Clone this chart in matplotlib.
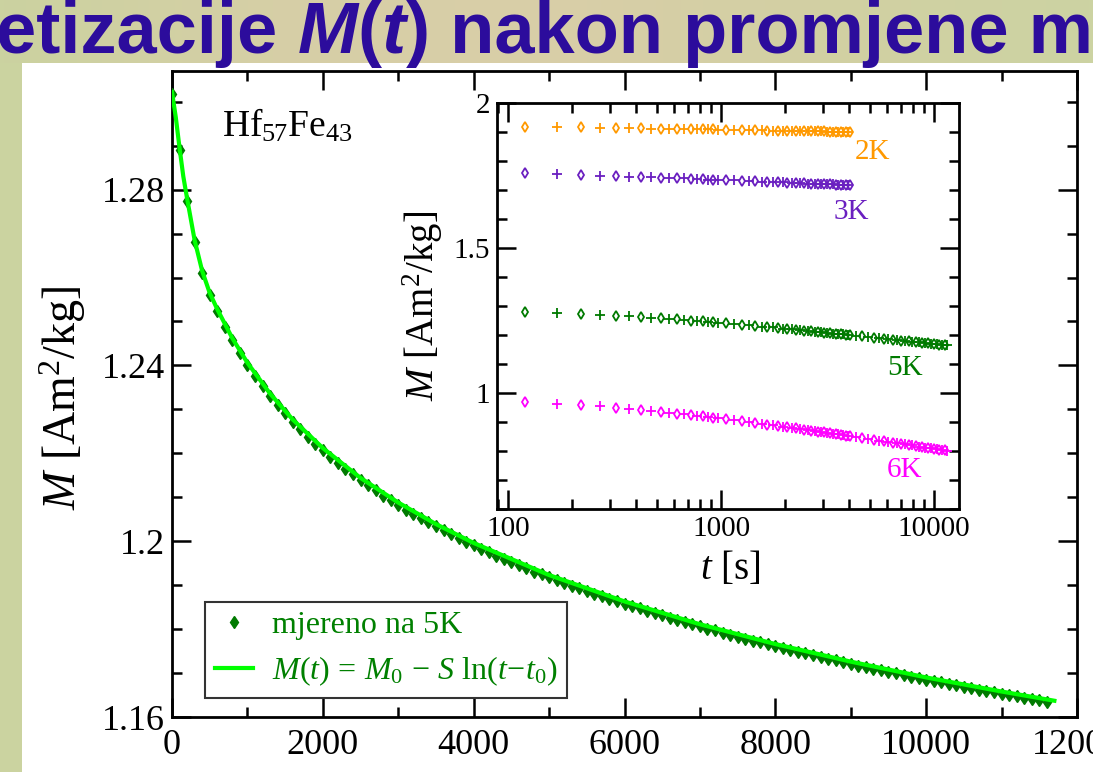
import numpy as np
import matplotlib
matplotlib.use('Agg')
import matplotlib.pyplot as plt
from matplotlib import ticker
from matplotlib.patches import Rectangle
from matplotlib.lines import Line2D

plt.rcParams['font.family'] = ['Liberation Serif', 'DejaVu Serif']
plt.rcParams['mathtext.fontset'] = 'custom'
plt.rcParams['mathtext.rm'] = 'Liberation Serif'
plt.rcParams['mathtext.it'] = 'Liberation Serif:italic'
plt.rcParams['mathtext.bf'] = 'Liberation Serif:bold'

# main panel: relaxation measured at 5K
t_main = [0, 100, 200, 300, 400, 500, 600, 700, 800, 900,
          1000, 1100, 1200, 1300, 1400, 1500, 1600, 1700, 1800, 1900,
          2000, 2100, 2200, 2300, 2400, 2500, 2600, 2700, 2800, 2900,
          3000, 3100, 3200, 3300, 3400, 3500, 3600, 3700, 3800, 3900,
          4000, 4100, 4200, 4300, 4400, 4500, 4600, 4700, 4800, 4900,
          5000, 5100, 5200, 5300, 5400, 5500, 5600, 5700, 5800, 5900,
          6000, 6100, 6200, 6300, 6400, 6500, 6600, 6700, 6800, 6900,
          7000, 7100, 7200, 7300, 7400, 7500, 7600, 7700, 7800, 7900,
          8000, 8100, 8200, 8300, 8400, 8500, 8600, 8700, 8800, 8900,
          9000, 9100, 9200, 9300, 9400, 9500, 9600, 9700, 9800, 9900,
          10000, 10100, 10200, 10300, 10400, 10500, 10600, 10700, 10800, 10900,
          11000, 11100, 11200, 11300, 11400, 11500, 11600]
M_main = [1.3017, 1.2890, 1.2775, 1.2680, 1.2610, 1.2560, 1.2523, 1.2488, 1.2457, 1.2428,
          1.2401, 1.2376, 1.2353, 1.2331, 1.2310, 1.2291, 1.2272, 1.2255, 1.2238, 1.2222,
          1.2207, 1.2192, 1.2178, 1.2165, 1.2152, 1.2139, 1.2127, 1.2116, 1.2104, 1.2093,
          1.2083, 1.2072, 1.2062, 1.2052, 1.2043, 1.2034, 1.2025, 1.2016, 1.2007, 1.1999,
          1.1991, 1.1983, 1.1975, 1.1967, 1.1960, 1.1952, 1.1945, 1.1938, 1.1931, 1.1925,
          1.1918, 1.1911, 1.1905, 1.1899, 1.1893, 1.1886, 1.1880, 1.1875, 1.1869, 1.1863,
          1.1858, 1.1852, 1.1847, 1.1841, 1.1836, 1.1831, 1.1826, 1.1821, 1.1816, 1.1811,
          1.1806, 1.1801, 1.1797, 1.1792, 1.1787, 1.1783, 1.1778, 1.1774, 1.1770, 1.1765,
          1.1761, 1.1757, 1.1753, 1.1749, 1.1745, 1.1741, 1.1737, 1.1733, 1.1729, 1.1725,
          1.1721, 1.1717, 1.1714, 1.1710, 1.1706, 1.1703, 1.1699, 1.1696, 1.1692, 1.1689,
          1.1685, 1.1682, 1.1679, 1.1675, 1.1672, 1.1669, 1.1665, 1.1662, 1.1659, 1.1656,
          1.1653, 1.1650, 1.1647, 1.1644, 1.1641, 1.1638, 1.1635]

# fit M(t) = M0 - S ln(t - t0)
t_fit = [0, 50, 100, 150, 200, 300, 400, 500, 600, 800, 1000, 1300, 1600, 2000,
         2500, 3000, 3500, 4000, 5000, 6000, 7000, 8000, 9000, 10000, 11000, 11700]
M_fit = [1.3022, 1.2965, 1.2895, 1.2830, 1.2780, 1.2685, 1.2615, 1.2565, 1.2528, 1.2462,
         1.2406, 1.2336, 1.2277, 1.2212, 1.2144, 1.2088, 1.2039, 1.1996, 1.1923, 1.1863,
         1.1811, 1.1766, 1.1726, 1.1690, 1.1658, 1.1637]

# inset: log time, four temperatures
t_low = [120, 170, 220, 270, 320, 370, 420, 470, 520, 570, 620, 670, 720, 770, 820, 870, 920, 970,
         1050, 1150, 1250, 1350, 1450, 1550, 1650, 1750, 1850, 1950,
         2050, 2150, 2250, 2350, 2450, 2550, 2650, 2750, 2850, 2950,
         3050, 3150, 3250, 3350, 3450, 3550, 3650, 3750, 3850, 3950, 4050]
t_high = t_low + [4300, 4600, 4900, 5200, 5500, 5800, 6100, 6400, 6700, 7000, 7300, 7600, 7900,
                  8200, 8500, 8800, 9100, 9400, 9700, 10000, 10300, 10600, 10900, 11200, 11500]
M_2K = [1.918, 1.917, 1.916, 1.915, 1.914, 1.913, 1.913, 1.912, 1.912, 1.911,
        1.911, 1.910, 1.910, 1.910, 1.909, 1.909, 1.909, 1.908, 1.908, 1.907,
        1.907, 1.906, 1.906, 1.906, 1.905, 1.905, 1.905, 1.904, 1.904, 1.904,
        1.903, 1.903, 1.903, 1.903, 1.903, 1.902, 1.902, 1.902, 1.902, 1.901,
        1.901, 1.901, 1.901, 1.901, 1.901, 1.900, 1.900, 1.900, 1.900]
M_3K = [1.757, 1.754, 1.752, 1.750, 1.748, 1.746, 1.745, 1.744, 1.743, 1.741,
        1.740, 1.740, 1.739, 1.738, 1.737, 1.736, 1.736, 1.735, 1.734, 1.733,
        1.732, 1.731, 1.730, 1.729, 1.728, 1.727, 1.727, 1.726, 1.725, 1.725,
        1.724, 1.723, 1.723, 1.722, 1.722, 1.721, 1.721, 1.720, 1.720, 1.719,
        1.719, 1.719, 1.718, 1.718, 1.717, 1.717, 1.717, 1.716, 1.716]
M_5K = [1.281, 1.277, 1.274, 1.270, 1.267, 1.265, 1.262, 1.260, 1.258, 1.256,
        1.254, 1.252, 1.250, 1.248, 1.247, 1.245, 1.244, 1.242, 1.240, 1.238,
        1.235, 1.233, 1.231, 1.229, 1.227, 1.226, 1.224, 1.222, 1.221, 1.219,
        1.218, 1.217, 1.215, 1.214, 1.213, 1.212, 1.211, 1.209, 1.208, 1.207,
        1.206, 1.205, 1.204, 1.203, 1.203, 1.202, 1.201, 1.200, 1.199, 1.197,
        1.195, 1.193, 1.191, 1.189, 1.187, 1.186, 1.184, 1.183, 1.181, 1.180,
        1.178, 1.177, 1.176, 1.175, 1.173, 1.172, 1.171, 1.170, 1.169, 1.168,
        1.167, 1.166, 1.165, 1.164]
M_6K = [0.969, 0.963, 0.958, 0.954, 0.949, 0.945, 0.942, 0.938, 0.935, 0.932,
        0.929, 0.927, 0.924, 0.922, 0.919, 0.917, 0.915, 0.913, 0.910, 0.906,
        0.903, 0.900, 0.897, 0.894, 0.891, 0.889, 0.886, 0.884, 0.882, 0.880,
        0.878, 0.876, 0.874, 0.872, 0.870, 0.869, 0.867, 0.866, 0.864, 0.863,
        0.861, 0.860, 0.858, 0.857, 0.856, 0.854, 0.853, 0.852, 0.851, 0.848,
        0.845, 0.842, 0.839, 0.836, 0.834, 0.831, 0.829, 0.827, 0.825, 0.823,
        0.821, 0.819, 0.817, 0.815, 0.814, 0.812, 0.810, 0.809, 0.807, 0.806,
        0.804, 0.803, 0.802, 0.800]
inset_labels = ['2K', '3K', '5K', '6K']

W, H = 1093, 772
fig = plt.figure(figsize=(W / 100, H / 100), dpi=100)
fig.patch.set_facecolor('#cbd3a0')

# slide header band + white slide body
band = fig.add_axes([0, 1 - 63 / H, 1, 63 / H], zorder=-2)
grad = np.array([[203, 210, 160], [214, 207, 166], [217, 206, 168], [210, 208, 163], [204, 211, 162]]) / 255
xs = np.linspace(0, 1, 300)
img = np.stack([np.interp(xs, np.linspace(0, 1, len(grad)), grad[:, k]) for k in range(3)], axis=-1)
band.imshow(img[None, :, :], aspect='auto', extent=[0, 1, 0, 1])
band.axis('off')
fig.add_artist(Rectangle((22 / W, 0), 1, 1 - 63 / H, transform=fig.transFigure,
                         fc='white', ec='none', zorder=-1))

title_parts = [('etizacije ', 'normal'), ('M', 'italic'), ('(', 'normal'), ('t', 'italic'),
               (') nakon promjene m', 'normal')]
renderer = fig.canvas.get_renderer()
x0 = -4 / W
for txt, style in title_parts:
    tt = fig.text(x0, 1 - 53 / H, txt, fontsize=52, fontweight='bold', fontstyle=style,
                  family='Liberation Sans', color='#2c0c9c', va='baseline', ha='left', zorder=10)
    x0 += tt.get_window_extent(renderer).width / W

fmt = ticker.FuncFormatter(lambda v, p: f'{v:g}')

# main axes
ax = fig.add_axes([172 / W, 1 - 717 / H, 905 / W, 646 / H], zorder=1)
ax.set_xlim(0, 12000)
ax.set_ylim(1.16, 1.307)
ax.xaxis.set_major_locator(ticker.MultipleLocator(2000))
ax.xaxis.set_minor_locator(ticker.MultipleLocator(1000))
ax.yaxis.set_major_locator(ticker.FixedLocator([1.16, 1.2, 1.24, 1.28]))
ax.yaxis.set_minor_locator(ticker.MultipleLocator(0.01))
ax.xaxis.set_major_formatter(fmt)
ax.yaxis.set_major_formatter(fmt)
ax.tick_params(which='both', direction='in', top=True, right=True, width=1.8, colors='black')
ax.tick_params(which='major', length=14, labelsize=26)
ax.tick_params(which='minor', length=7.5)
ax.tick_params(axis='x', pad=9)
ax.tick_params(axis='y', pad=5)
for s in ax.spines.values():
    s.set_linewidth(2)

ax.plot(t_main, M_main, ls='none', marker='d', ms=6.5, color='#007a00', zorder=3)
ax.plot(t_fit, M_fit, color='#00ff00', lw=3, zorder=4)

ax.set_ylabel(r'$M$ [Am$^2$/kg]', fontsize=33)
ax.yaxis.set_label_coords(-0.093, 0.494)
ax.text(0.0552, 0.898, r'Hf$_{57}$Fe$_{43}$', transform=ax.transAxes, fontsize=27,
        va='baseline', ha='left')

handles = [Line2D([], [], ls='none', marker='d', ms=6.5, color='#007a00'),
           Line2D([], [], color='#00ff00', lw=3)]
labels = ['mjereno na 5K', r'$M(t)\,=\,M_0\,-\,S\ \mathrm{ln}(t\!-\!t_0)$']
leg = ax.legend(handles, labels, loc='lower left', bbox_to_anchor=(0.0365, 0.0294),
                frameon=True, fancybox=False, edgecolor='#333333', framealpha=1,
                prop={'size': 23}, labelcolor='#008000', handlelength=1.2,
                handletextpad=0.6, borderpad=0.3, labelspacing=0.45, borderaxespad=0)
leg.get_frame().set_linewidth(1.5)

# inset
axi = fig.add_axes([497 / W, 1 - 509 / H, 462 / W, 406 / H], zorder=2)
axi.set_facecolor('white')
axi.set_xscale('log')
axi.set_xlim(88.8, 13100)
axi.set_ylim(0.6, 2.0)
axi.yaxis.set_major_locator(ticker.FixedLocator([1.0, 1.5, 2.0]))
axi.yaxis.set_minor_locator(ticker.MultipleLocator(0.1))
axi.xaxis.set_major_formatter(fmt)
axi.xaxis.set_minor_formatter(ticker.NullFormatter())
axi.yaxis.set_major_formatter(fmt)
axi.tick_params(which='both', direction='in', top=True, right=True, width=1.8, colors='black')
axi.tick_params(which='major', length=14, labelsize=21)
axi.tick_params(which='minor', length=7.5)
axi.tick_params(axis='both', pad=5)
for s in axi.spines.values():
    s.set_linewidth(2)

colours = ['#ff9900', '#6a1fc0', '#007a00', '#ff00ff']
series = [(t_low, M_2K), (t_low, M_3K), (t_high, M_5K), (t_high, M_6K)]
for (tt_, mm_), col in zip(series, colours):
    # the original alternates open diamonds and crosses
    axi.plot(tt_[0::2], mm_[0::2], ls='none', marker='d', ms=5.5, mfc='none', mec=col, mew=1.3)
    axi.plot(tt_[1::2], mm_[1::2], ls='none', marker='+', ms=7, color=col, mew=1.3)

label_pos = [(0.812, 0.879), (0.766, 0.731), (0.883, 0.347), (0.883, 0.096)]
for lab, (x, y), col in zip(inset_labels, label_pos, colours):
    axi.text(x, y, lab, transform=axi.transAxes, fontsize=21, color=col, ha='center', va='center')

axi.set_xlabel(r'$t$ [s]', fontsize=28)
axi.xaxis.set_label_coords(0.504, -0.10)
axi.set_ylabel(r'$M$ [Am$^2$/kg]', fontsize=28)
axi.yaxis.set_label_coords(-0.113, 0.5)

fig.savefig('out.png', dpi=100)
